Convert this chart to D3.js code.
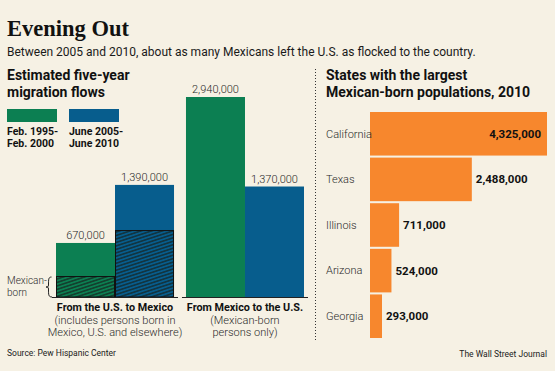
<!DOCTYPE html>
<html>
<head>
<meta charset="utf-8">
<script src="https://cdn.jsdelivr.net/npm/d3@7"></script>
<style>
  body { margin: 0; background: #f6f1e4; }
  svg { display: block; font-family: Roboto, sans-serif; }
  .light { font-weight: 300; fill: #2a2a2a; }
  .bold { font-weight: 700; fill: #111; }
</style>
</head>
<body>
<svg id="chart" width="555" height="371"></svg>
<script>
// migration flows (left panel)
const flowCategories = ['From the U.S. to Mexico', 'From Mexico to the U.S.'];
const flowSubLabels = [['(includes persons born in', 'Mexico, U.S. and elsewhere)'], ['(Mexican-born', 'persons only)']];
const periods = ['Feb. 1995-Feb. 2000', 'June 2005-June 2010'];
const periodLabels = [['Feb. 1995-', 'Feb. 2000'], ['June 2005-', 'June 2010']];
const flowValues = [[670000, 1390000], [2940000, 1370000]];
const mexicanBornValues = [260000, 830000]; // hatched part, U.S. to Mexico only

// states (right panel)
const states = ['California', 'Texas', 'Illinois', 'Arizona', 'Georgia'];
const stateValues = [4325000, 2488000, 711000, 524000, 293000];

var colors = ['#0c7f52', '#075d8d'];
var orange = '#f7872d';
var svg = d3.select('#chart');
var fmt = d3.format(',');

svg.append('rect').attr('width', 555).attr('height', 371).attr('fill', '#f6f1e4');

// hatch pattern
var defs = svg.append('defs');
defs.append('pattern')
    .attr('id', 'hatch')
    .attr('patternUnits', 'userSpaceOnUse')
    .attr('width', 8).attr('height', 3.3)
    .attr('patternTransform', 'rotate(-18)')
    .append('line')
    .attr('x1', 0).attr('x2', 8).attr('y1', 1.65).attr('y2', 1.65)
    .attr('stroke', '#16201c').attr('stroke-width', 1.1);

// titles
svg.append('text').attr('x', 7).attr('y', 36)
    .style('font-family', '"Liberation Serif", serif').style('font-weight', 'bold').style('font-size', '22.5px')
    .attr('fill', '#111').text('Evening Out');
svg.append('text').attr('x', 7).attr('y', 56).attr('fill', '#1a1a1a')
    .style('font-size', '12px')
    .text('Between 2005 and 2010, about as many Mexicans left the U.S. as flocked to the country.');

function heading(x, lines) {
    lines.forEach((l, i) => {
        svg.append('text').attr('class', 'bold').attr('x', x).attr('y', 80 + i * 16.5)
            .style('font-size', '14px').text(l);
    });
}
heading(7, ['Estimated five-year', 'migration flows']);
heading(326, ['States with the largest', 'Mexican-born populations, 2010']);

// legend
periodLabels.forEach((lines, i) => {
    var x = 7 + i * 62;
    svg.append('rect').attr('x', x).attr('y', 109).attr('width', 50).attr('height', 13).attr('fill', colors[i]);
    lines.forEach((l, j) => {
        svg.append('text').attr('class', 'bold').attr('x', x).attr('y', 135 + j * 11.5)
            .style('font-size', '10.5px').text(l);
    });
});

// left chart scales (the tallest bar is cut short in the original, so the scale is clamped)
var yMax = 2480000;
var y = d3.scaleLinear().domain([0, yMax]).range([297, 97]).clamp(true);
var x0 = d3.scaleBand().domain(flowCategories).range([56, 304]).paddingInner(0.092);
var x1 = d3.scaleBand().domain(periods).range([0, x0.bandwidth()]);

var groups = svg.selectAll('.group')
    .data(flowCategories)
    .enter().append('g')
    .attr('class', 'group')
    .attr('transform', d => 'translate(' + x0(d) + ',0)');

groups.each(function(cat, ci) {
    var g = d3.select(this);
    var rows = periods.map((p, pi) => ({ period: p, value: flowValues[ci][pi], i: pi }));

    g.selectAll('.bar')
        .data(rows)
        .enter().append('rect')
        .attr('class', 'bar')
        .attr('x', d => x1(d.period))
        .attr('y', d => y(d.value))
        .attr('width', x1.bandwidth())
        .attr('height', d => y(0) - y(d.value))
        .attr('fill', d => colors[d.i]);

    if (ci === 0) {
        var mb = periods.map((p, pi) => ({ period: p, value: mexicanBornValues[pi] }));
        g.selectAll('.hatch')
            .data(mb)
            .enter().append('rect')
            .attr('class', 'hatch')
            .attr('x', d => x1(d.period) + 0.5)
            .attr('y', d => y(d.value) + 0.5)
            .attr('width', x1.bandwidth() - 1)
            .attr('height', d => y(0) - y(d.value) - 0.5)
            .attr('fill', 'url(#hatch)')
            .attr('stroke', '#111').attr('stroke-width', 1);
    }

    g.selectAll('.val')
        .data(rows)
        .enter().append('text')
        .attr('class', 'light')
        .attr('x', d => x1(d.period) + x1.bandwidth() / 2)
        .attr('y', d => y(d.value) - 4)
        .attr('text-anchor', 'middle')
        .style('font-size', '11px')
        .text(d => fmt(d.value));

    // baseline
    g.append('line')
        .attr('x1', -4).attr('x2', x0.bandwidth() + 4)
        .attr('y1', y(0) + 0.5).attr('y2', y(0) + 0.5)
        .attr('stroke', '#222').attr('stroke-width', 1);

    g.append('text').attr('class', 'bold')
        .attr('x', x0.bandwidth() / 2).attr('y', 311)
        .attr('text-anchor', 'middle').style('font-size', '10.8px')
        .text(cat);
    flowSubLabels[ci].forEach((l, j) => {
        g.append('text').attr('class', 'light')
            .attr('x', x0.bandwidth() / 2).attr('y', 323.5 + j * 12)
            .attr('text-anchor', 'middle').style('font-size', '11px')
            .text(l);
    });
});

// Mexican-born brace
var yb = y(mexicanBornValues[0]) + 1, y0 = y(0);
var mid = (yb + y0) / 2;
svg.append('path')
    .attr('d', 'M51.5,' + yb + ' C48.5,' + yb + ' 48.5,' + (yb + 2) + ' 48.5,' + (mid - 2) +
        ' C48.5,' + mid + ' 47.5,' + mid + ' 46,' + mid +
        ' C47.5,' + mid + ' 48.5,' + mid + ' 48.5,' + (mid + 2) +
        ' C48.5,' + (y0 - 2) + ' 48.5,' + y0 + ' 52,' + y0)
    .attr('fill', 'none').attr('stroke', '#222').attr('stroke-width', 1);
svg.append('text').attr('class', 'light').attr('x', 7).attr('y', 284).style('font-size', '10px').text('Mexican-');
svg.append('text').attr('class', 'light').attr('x', 7).attr('y', 295.5).style('font-size', '10px').text('born');

// divider
svg.append('line')
    .attr('x1', 315.5).attr('x2', 315.5).attr('y1', 69).attr('y2', 342)
    .attr('stroke', '#333').attr('stroke-width', 1).attr('stroke-dasharray', '1,2');

// right chart
var xs = d3.scaleLinear().domain([0, d3.max(stateValues)]).range([370, 547]);
var ys = d3.scaleBand().domain(states).range([112, 338]).paddingInner(0.045);

svg.selectAll('.sbar')
    .data(states)
    .enter().append('rect')
    .attr('class', 'sbar')
    .attr('x', xs(0))
    .attr('y', d => ys(d))
    .attr('width', (d, i) => xs(stateValues[i]) - xs(0))
    .attr('height', ys.bandwidth())
    .attr('fill', orange);

svg.selectAll('.sname')
    .data(states)
    .enter().append('text')
    .attr('class', 'light')
    .attr('x', 326)
    .attr('y', d => ys(d) + ys.bandwidth() / 2)
    .attr('dy', '0.35em')
    .style('font-size', '11px')
    .text(d => d);

svg.selectAll('.sval')
    .data(states)
    .enter().append('text')
    .attr('class', 'bold')
    .attr('x', (d, i) => i === 0 ? xs(stateValues[i]) - 6 : xs(stateValues[i]) + 4)
    .attr('y', d => ys(d) + ys.bandwidth() / 2)
    .attr('dy', '0.35em')
    .attr('text-anchor', (d, i) => i === 0 ? 'end' : 'start')
    .style('font-size', '11.5px')
    .text((d, i) => fmt(stateValues[i]));

// footer
svg.append('text').attr('x', 7).attr('y', 356).attr('fill', '#222').style('font-size', '8.5px')
    .text('Source: Pew Hispanic Center');
svg.append('text').attr('x', 547).attr('y', 357).attr('fill', '#222').attr('text-anchor', 'end').style('font-size', '8.5px')
    .text('The Wall Street Journal');
</script>
</body>
</html>
